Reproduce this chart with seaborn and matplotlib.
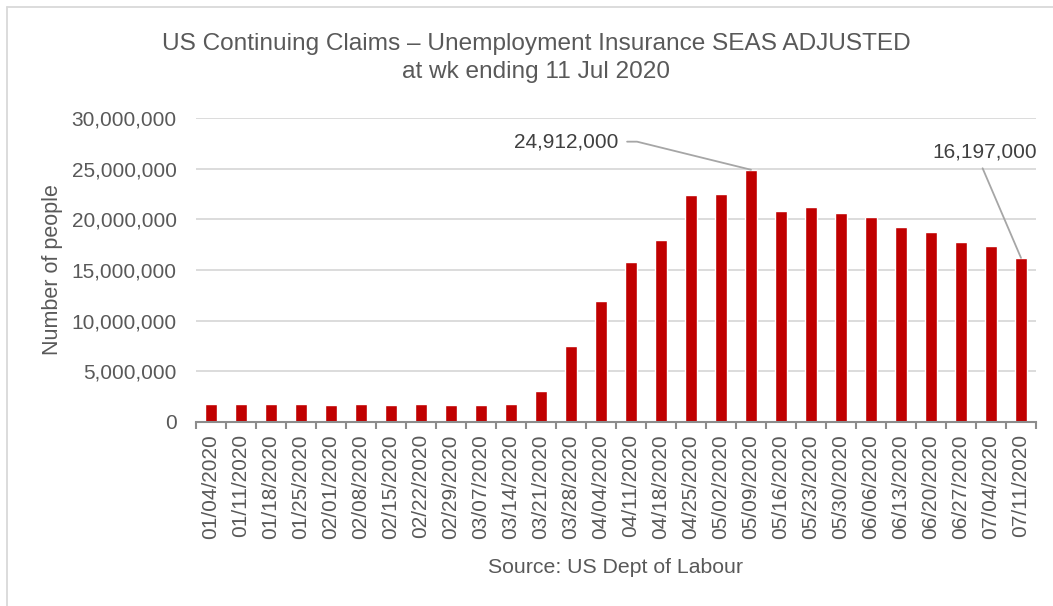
import matplotlib
matplotlib.use("Agg")
import matplotlib.pyplot as plt
import seaborn as sns
import pandas as pd
from matplotlib.lines import Line2D
from matplotlib.ticker import FuncFormatter, FixedLocator

weeks = ["01/04/2020", "01/11/2020", "01/18/2020", "01/25/2020", "02/01/2020",
         "02/08/2020", "02/15/2020", "02/22/2020", "02/29/2020", "03/07/2020",
         "03/14/2020", "03/21/2020", "03/28/2020", "04/04/2020", "04/11/2020",
         "04/18/2020", "04/25/2020", "05/02/2020", "05/09/2020", "05/16/2020",
         "05/23/2020", "05/30/2020", "06/06/2020", "06/13/2020", "06/20/2020",
         "06/27/2020", "07/04/2020", "07/11/2020"]
claims = [1760000, 1735000, 1710000, 1760000, 1680000,
          1740000, 1700000, 1730000, 1700000, 1700000,
          1784000, 3059000, 7446000, 11914000, 15819000,
          18011000, 22377000, 22548000, 24912000, 20838000,
          21268000, 20606000, 20289000, 19231000, 18760000,
          17764000, 17338000, 16197000]
yticks = [0, 5000000, 10000000, 15000000, 20000000, 25000000, 30000000]

df = pd.DataFrame({"week": weeks, "claims": claims})

sns.set_theme(style="white")
plt.rcParams["font.family"] = ["Liberation Sans", "DejaVu Sans"]

TXT = "#595959"
fig = plt.figure(figsize=(10.53, 6.06), dpi=100)
ax = fig.add_axes([196 / 1053, 1 - 421.7 / 606, 840 / 1053, 303.4 / 606])

sns.barplot(data=df, x="week", y="claims", color="#C00000", width=0.4,
            saturation=1, ax=ax, zorder=3)

ax.set_xlim(-0.5, len(weeks) - 0.5)
ax.set_ylim(0, 30000000)
ax.set_yticks(yticks)
ax.yaxis.set_major_formatter(FuncFormatter(lambda v, p: f"{int(v):,}"))
ax.grid(axis="y", color="#D9D9D9", linewidth=1.3, zorder=0)
ax.set_axisbelow(True)

for s in ["top", "right", "left"]:
    ax.spines[s].set_visible(False)
ax.spines["bottom"].set_color("#8C8C8C")
ax.spines["bottom"].set_linewidth(1.5)
ax.spines["bottom"].set_zorder(4)

ax.set_xticks(range(len(weeks)))
ax.set_xticklabels(weeks, rotation=90)
ax.xaxis.set_minor_locator(FixedLocator([i - 0.5 for i in range(len(weeks) + 1)]))
ax.tick_params(axis="x", which="major", length=0, pad=9, labelsize=15, labelcolor=TXT)
ax.tick_params(axis="x", which="minor", length=5, width=1.5, color="#8C8C8C", bottom=True)
ax.tick_params(axis="y", length=0, pad=14, labelsize=15, labelcolor=TXT)

ax.set_xlabel("Source: US Dept of Labour", fontsize=15.3, color=TXT, labelpad=14)
ax.set_ylabel("Number of people", fontsize=15.5, color=TXT, labelpad=6)

fig.text(536 / 1053, 1 - 44 / 606, "US Continuing Claims \u2013 Unemployment Insurance SEAS ADJUSTED",
         ha="center", va="center", fontsize=17.6, color=TXT)
fig.text(536 / 1053, 1 - 72 / 606, "at wk ending 11 Jul 2020",
         ha="center", va="center", fontsize=17.6, color=TXT)

# callouts
i_peak = claims.index(max(claims))
i_last = len(claims) - 1
ax.text(13.57, 27690000, f"{claims[i_peak]:,}", ha="right", va="center",
        fontsize=15, color="#404040")
ax.plot([13.87, 14.2, i_peak], [27690000, 27690000, claims[i_peak]],
        color="#A6A6A6", linewidth=1.3, zorder=5, clip_on=False)
ax.text(25.8, 26670000, f"{claims[i_last]:,}", ha="center", va="center",
        fontsize=15, color="#404040")
ax.plot([25.72, i_last], [25060000, claims[i_last]],
        color="#A6A6A6", linewidth=1.3, zorder=5, clip_on=False)

# outer frame (top and left edges visible)
fig.add_artist(Line2D([7 / 1053, 1], [1 - 7 / 606, 1 - 7 / 606], transform=fig.transFigure,
                      color="#D9D9D9", linewidth=1.3))
fig.add_artist(Line2D([7 / 1053, 7 / 1053], [0, 1 - 7 / 606], transform=fig.transFigure,
                      color="#D9D9D9", linewidth=1.3))

fig.savefig("out.png", dpi=100)
